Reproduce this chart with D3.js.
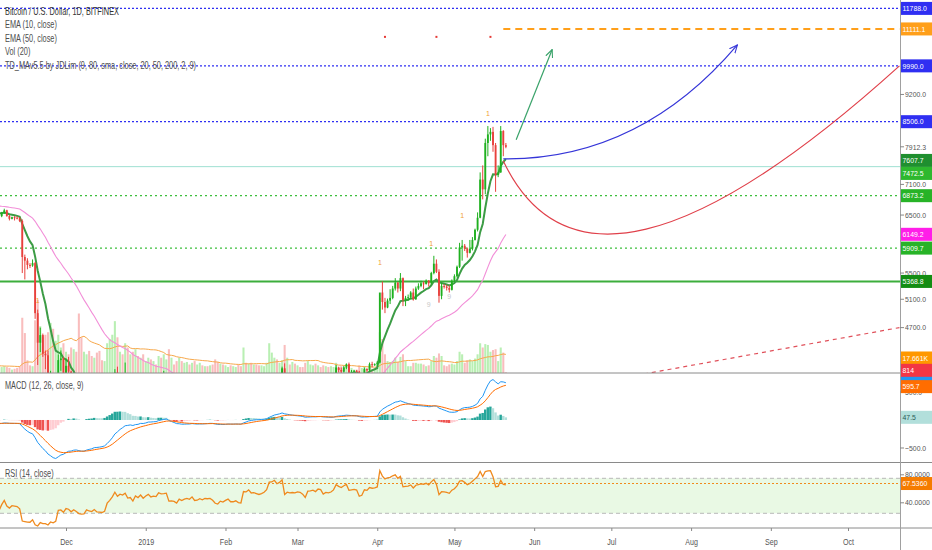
<!DOCTYPE html>
<html>
<head>
<meta charset="utf-8">
<script src="https://cdn.jsdelivr.net/npm/d3@7"></script>
<style>
  body { margin: 0; background: #fff; }
  svg { display: block; }
  text { font-family: 'Liberation Sans', Arial, sans-serif; }
</style>
</head>
<body>
<svg id="chart" width="932" height="550"></svg>
<script>
// ── daily candles, BTC/USD Bitfinex: [day, open, high, low, close, volume (K)] ──
// (October rows are only warm-up for the indicators, they sit left of the view)
const oct18 = [
  [16,6800,6850,6740,6780,14],[17,6780,6800,6730,6760,10],[18,6760,6790,6660,6700,11],
  [19,6700,6730,6650,6680,9],[20,6680,6710,6660,6690,6],[21,6690,6760,6680,6700,6],
  [22,6700,6720,6660,6680,8],[23,6680,6700,6640,6660,9],[24,6660,6720,6650,6670,9],
  [25,6670,6680,6610,6620,10],[26,6620,6660,6600,6620,9],[27,6620,6650,6610,6630,5],
  [28,6630,6640,6600,6620,5],[29,6620,6630,6430,6460,14],[30,6460,6500,6440,6480,9],
  [31,6480,6510,6440,6470,10]
];
const nov18 = [
  [1,6470,6520,6450,6500,9],[2,6500,6560,6490,6530,9],[3,6530,6540,6480,6500,6],
  [4,6500,6600,6460,6560,10],[5,6560,6580,6420,6480,6],[6,6480,6560,6460,6540,7],
  [7,6540,6620,6520,6590,8],[8,6590,6600,6470,6480,7],[9,6480,6500,6400,6430,6],
  [10,6430,6470,6420,6460,4],[11,6460,6480,6400,6450,5],[12,6450,6480,6420,6440,6],
  [13,6440,6460,6370,6390,8],[14,6390,6420,5500,5760,65],[15,5760,5800,5400,5700,47],
  [16,5700,5740,5560,5630,15],[17,5630,5660,5580,5620,9],[18,5620,5720,5600,5660,8],
  [19,5660,5680,4820,4900,62],[20,4900,4950,4220,4500,86],[21,4500,4700,4380,4600,55],
  [22,4600,4620,4320,4360,42],[23,4360,4400,4170,4340,45],[24,4340,4400,3800,3920,48],
  [25,3920,4150,3600,4020,59],[26,4020,4120,3700,3800,52],[27,3800,3900,3670,3850,38],
  [28,3850,4350,3840,4280,45],[29,4280,4400,4150,4300,30],[30,4300,4320,3950,4040,35]
];
const dec18 = [
  [1,4040,4300,4030,4210,25],[2,4210,4320,4100,4140,22],[3,4140,4150,3830,3860,30],
  [4,3860,4030,3800,3950,28],[5,3950,3960,3730,3760,25],[6,3760,3800,3450,3500,70],
  [7,3500,3600,3280,3420,42],[8,3420,3480,3320,3430,25],[9,3430,3640,3420,3600,22],
  [10,3600,3640,3450,3480,26],[11,3480,3500,3390,3420,20],[12,3420,3540,3400,3500,18],
  [13,3500,3510,3240,3270,24],[14,3270,3290,3190,3240,26],[15,3240,3260,3160,3210,15],
  [16,3210,3290,3200,3250,14],[17,3250,3600,3240,3560,35],[18,3560,3720,3480,3690,40],
  [19,3690,4020,3660,3860,45],[20,3860,4170,3820,4130,61],[21,4130,4200,3830,3900,42],
  [22,3900,4040,3850,4030,25],[23,4030,4060,3940,3980,22],[24,3980,4250,3960,4090,35],
  [25,4090,4100,3720,3810,30],[26,3810,3900,3750,3840,22],[27,3840,3860,3580,3620,25],
  [28,3620,3950,3600,3900,28],[29,3900,3960,3780,3800,20],[30,3800,3970,3780,3950,18],
  [31,3950,3980,3720,3750,22]
];
const jan19 = [
  [1,3750,3900,3700,3880,14],[2,3880,4000,3840,3980,18],[3,3980,3990,3800,3830,16],
  [4,3830,3900,3790,3870,14],[5,3870,3920,3840,3850,10],[6,3850,4100,3820,4060,20],
  [7,4060,4100,3990,4010,18],[8,4010,4150,3970,4020,22],[9,4020,4080,3990,4040,16],
  [10,4040,4060,3580,3630,28],[11,3630,3690,3590,3640,18],[12,3640,3660,3570,3610,10],
  [13,3610,3640,3480,3520,14],[14,3520,3720,3510,3680,18],[15,3680,3700,3570,3600,14],
  [16,3600,3720,3600,3660,12],[17,3660,3710,3590,3690,13],[18,3690,3700,3620,3650,10],
  [19,3650,3800,3640,3740,12],[20,3740,3770,3550,3580,14],[21,3580,3620,3550,3590,10],
  [22,3590,3680,3530,3640,12],[23,3640,3660,3580,3600,9],[24,3600,3660,3580,3640,8],
  [25,3640,3650,3590,3630,8],[26,3630,3700,3610,3640,9],[27,3640,3650,3550,3580,10],
  [28,3580,3590,3430,3470,16],[29,3470,3490,3400,3440,13],[30,3440,3530,3420,3510,11],
  [31,3510,3530,3460,3480,10]
];
const feb19 = [
  [1,3480,3540,3460,3520,9],[2,3520,3560,3500,3550,7],[3,3550,3560,3460,3470,9],
  [4,3470,3490,3450,3470,8],[5,3470,3500,3460,3490,7],[6,3490,3510,3410,3440,10],
  [7,3440,3460,3410,3430,8],[8,3430,3770,3420,3700,30],[9,3700,3710,3660,3690,12],
  [10,3690,3760,3660,3750,11],[11,3750,3760,3660,3680,12],[12,3680,3710,3640,3690,10],
  [13,3690,3730,3650,3670,10],[14,3670,3690,3620,3650,9],[15,3650,3700,3640,3670,9],
  [16,3670,3730,3660,3700,8],[17,3700,3780,3670,3760,12],[18,3760,4050,3750,4000,35],
  [19,4000,4120,3950,4010,24],[20,4010,4100,3980,4080,18],[21,4080,4120,3980,4020,16],
  [22,4020,4090,4000,4070,12],[23,4070,4200,4050,4180,15],[24,4180,4240,3800,3840,33],
  [25,3840,3960,3820,3920,18],[26,3920,3940,3880,3900,10],[27,3900,3940,3740,3910,13],
  [28,3910,3960,3850,3900,11]
];
const mar19 = [
  [1,3900,3960,3890,3930,9],[2,3930,3950,3900,3920,7],[3,3920,3930,3860,3880,7],
  [4,3880,3890,3780,3800,12],[5,3800,3990,3790,3970,14],[6,3970,4000,3940,3980,10],
  [7,3980,4020,3960,4000,9],[8,4000,4040,3930,3970,11],[9,3970,4070,3960,4040,9],
  [10,4040,4050,3990,4030,7],[11,4030,4040,3920,3940,9],[12,3940,3990,3910,3980,8],
  [13,3980,3990,3940,3970,7],[14,3970,4020,3930,3990,8],[15,3990,4050,3980,4040,7],
  [16,4040,4220,4030,4190,12],[17,4190,4200,4130,4160,6],[18,4160,4190,4110,4140,8],
  [19,4140,4210,4130,4190,7],[20,4190,4240,4170,4230,7],[21,4230,4250,4090,4130,10],
  [22,4130,4160,4110,4140,6],[23,4140,4160,4130,4150,4],[24,4150,4160,4120,4140,4],
  [25,4140,4150,3990,4030,9],[26,4030,4060,4010,4050,6],[27,4050,4190,4040,4170,8],
  [28,4170,4180,4140,4160,5],[29,4160,4250,4140,4230,7],[30,4230,4260,4190,4220,5],
  [31,4220,4240,4210,4230,4]
];
const apr19 = [
  [1,4230,4270,4200,4250,6],[2,4250,5120,4240,5200,48],[3,5200,5368.8,4950,5060,40],
  [4,5060,5120,4900,4980,22],[5,4980,5110,4970,5080,14],[6,5080,5250,5030,5120,13],
  [7,5120,5300,5100,5260,14],[8,5260,5420,5230,5350,18],[9,5350,5360,5200,5260,13],
  [10,5260,5500,5220,5420,19],[11,5420,5430,5000,5090,22],[12,5090,5150,5000,5120,14],
  [13,5120,5170,5080,5130,8],[14,5130,5220,5100,5200,8],[15,5200,5260,5080,5100,12],
  [16,5100,5290,5090,5260,12],[17,5260,5340,5240,5300,11],[18,5300,5380,5280,5340,11],
  [19,5340,5370,5250,5330,10],[20,5330,5400,5320,5380,8],[21,5380,5390,5290,5340,9],
  [22,5340,5520,5320,5500,14],[23,5500,5780,5480,5650,20],[24,5650,5720,5500,5520,18],
  [25,5520,5560,5050,5150,23],[26,5150,5350,5100,5300,20],[27,5300,5330,5260,5290,9],
  [28,5290,5320,5230,5270,8],[29,5270,5310,5200,5240,10],[30,5240,5400,5230,5380,11]
];
const may19 = [
  [1,5380,5480,5360,5450,10],[2,5450,5620,5430,5600,14],[3,5600,6000,5580,5920,25],
  [4,5920,6050,5700,5950,22],[5,5950,5980,5860,5900,12],[6,5900,5920,5750,5830,15],
  [7,5830,6050,5820,5900,16],[8,5900,6100,5870,6050,14],[9,6050,6250,6040,6230,17],
  [10,6230,6550,6200,6450,22],[11,6450,7350,6440,7200,35],[12,7200,7500,6800,7000,30],
  [13,7000,8100,6900,8000,34],[14,8000,8400,7700,8200,33],[15,8200,8350,8050,8260,25],
  [16,8260,8380,7800,7950,27],[17,7950,8000,6950,7300,28],[18,7300,7500,7250,7350,14],
  [19,7350,8400,7340,8280,30],[20,8280,8300,7700,7950,24],[21,7950,8000,7880,7912.3,0.814]
];

// ── price levels drawn on the chart ──
const levelValues = [11788.0, 9990.0, 8506.0, 7472.5, 6873.2, 5909.7, 5368.8];

// ── user drawings: [year, month(0-based), day, price] ──
const greenArrow   = [[2019,4,25,8075], [2019,5,8,10470]];
const blueCurve    = [[2019,4,20,7640], [2019,6,12,7617], [2019,7,19,10612]];
const redCurve     = [[2019,4,20,7594], [2019,5,23,4472], [2019,9,21,9990]];
const redDashed    = [[2019,5,10,3930], [2019,9,21,4700]];
const orangeDashed = [[2019,4,20,11111.1], [2019,9,21,11111.1]];

// ── TD sequential marks: [year, month, day, price, text] ──
const tdCounts = [
  [2018,10,20,5040,'1'], [2019,3,2,5630,'1'], [2019,3,22,5950,'1'],
  [2019,4,4,6446,'1'], [2019,4,14,8650,'1']
];
const tdGrey = [[2019,3,21,4990,'9'], [2019,3,29,5110,'9']];
const tdTop = [[2019,3,4,10860], [2019,3,24,10860], [2019,4,15,10860]];

// ── axis ticks and last-value tags ──
const priceTicks = [9200, 7912.3, 7100, 6500, 5500, 5100, 4700];
const priceTags  = [11788.0, 11111.1, 9990.0, 8506.0, 7607.7, 7472.5, 6873.2, 6149.2, 5909.7, 5368.8];
const volTags    = [17.661, 0.814];
const volTagText = ['17.661K', '814'];
const macdTicks  = [500, -500];
const macdTags   = [740, 595.7, 47.5];
const rsiTicks   = [80, 40];
const rsiTags    = [67.536];
const rsiBands   = [75, 25];

const legendLines = [
  'Bitcoin / U.S. Dollar, 1D, BITFINEX', 'EMA (10, close)', 'EMA (50, close)', 'Vol (20)',
  'TD_MAv5.5 by JDLim (9, 80, sma, close, 20, 50, 200, 2, 9)'
];

// ──────────────────────────────────────────────────────────────
const svg = d3.select('#chart');
const plotR = 900, mainB = 373, macdB = 462.5, rsiB = 528;

const bars = [[2018,9,oct18],[2018,10,nov18],[2018,11,dec18],[2019,0,jan19],
              [2019,1,feb19],[2019,2,mar19],[2019,3,apr19],[2019,4,may19]]
  .flatMap(([yy, mm, rows]) => rows.map(r => ({
    date: new Date(Date.UTC(yy, mm, r[0])), o: r[1], h: r[2], l: r[3], c: r[4], v: r[5]
  })));
const dt = (a) => new Date(Date.UTC(a[0], a[1], a[2]));

const x    = d3.scaleUtc().domain([new Date(Date.UTC(2018,11,1)), new Date(Date.UTC(2019,9,1))]).range([66, 848]);
const y    = d3.scaleLog().domain([4124, 12077]).range([mainB, 0]);
const yVol = d3.scaleLinear().domain([0, 100]).range([mainB, 288]);
const yM   = d3.scaleLinear().domain([-759, 839]).range([macdB, mainB]);
const yR   = d3.scaleLinear().domain([0, 100]).range([530.8, 460.8]);
const step = x(new Date(Date.UTC(2019,0,2))) - x(new Date(Date.UTC(2019,0,1)));

// squeeze text horizontally, the TradingView font is a narrow one
function squeeze(sel, k) {
  sel.each(function() {
    const w = this.getComputedTextLength();
    d3.select(this).attr('textLength', w * k).attr('lengthAdjust', 'spacingAndGlyphs');
  });
}

// indicators
const closes = bars.map(d => d.c);
const ema = (vals, n) => { const k = 2/(n+1); let e; return vals.map((v,i) => e = i ? v*k + e*(1-k) : v); };
const sma = (vals, n) => vals.map((v,i) => i < n-1 ? null : d3.mean(vals.slice(i-n+1, i+1)));
function rsi(vals, n) {
  let ag = 0, al = 0;
  return vals.map((v,i) => {
    if (i === 0) return null;
    const ch = v - vals[i-1], g = Math.max(ch,0), l = Math.max(-ch,0);
    if (i <= n) { ag += g/n; al += l/n; if (i < n) return null; }
    else { ag = (ag*(n-1) + g)/n; al = (al*(n-1) + l)/n; }
    return 100 - 100/(1 + ag/al);
  });
}
const ema10 = ema(closes, 10), ema50 = ema(closes, 50);
const volMA = sma(bars.map(d => d.v), 20);
const e12 = ema(closes, 12), e26 = ema(closes, 26);
const macd = e12.map((v,i) => v - e26[i]);
const signal = ema(macd, 9);
const hist = macd.map((v,i) => v - signal[i]);
const rsiV = rsi(closes, 14);

// clips
const defs = svg.append('defs');
[['clipMain',0,0,plotR,mainB],['clipMacd',0,mainB,plotR,macdB-mainB],['clipRsi',0,macdB,plotR,rsiB-macdB]]
  .forEach(([id,cx,cy,cw,ch]) => defs.append('clipPath').attr('id',id)
    .append('rect').attr('x',cx).attr('y',cy).attr('width',cw).attr('height',ch));
const mk = defs.append('marker').attr('id','arrow').attr('viewBox','0 0 10 10')
  .attr('refX',9).attr('refY',5).attr('markerWidth',9).attr('markerHeight',9)
  .attr('orient','auto').attr('markerUnits','userSpaceOnUse');
mk.append('path').attr('d','M0,1 L9,5 L0,9').attr('fill','none').attr('stroke','context-stroke').attr('stroke-width',1.2);

// ── MAIN PANE ──
const gMain = svg.append('g').attr('clip-path','url(#clipMain)');

// volume
gMain.append('g').selectAll('rect').data(bars).enter().append('rect')
  .attr('x', d => x(d.date) - step*0.4)
  .attr('width', step*0.8)
  .attr('y', d => yVol(d.v))
  .attr('height', d => mainB - yVol(d.v))
  .attr('fill', d => d.c >= d.o ? '#b9efb3' : '#f9bdbd');

gMain.append('path')
  .datum(bars.map((d,i) => [d.date, volMA[i]]).filter(d => d[1] != null))
  .attr('d', d3.line().x(d => x(d[0])).y(d => yVol(d[1])))
  .attr('fill','none').attr('stroke','#f7a84a').attr('stroke-width',1);

// horizontal levels
const levelStyle = {
  11788.0: ['#2f2ff2', 1.3, '2,2'], 9990.0: ['#2f2ff2', 1.3, '2,2'], 8506.0: ['#2f2ff2', 1.3, '2,2'],
  7472.5: ['#9fe0d2', 1, null], 6873.2: ['#3cbf3c', 1.2, '2,3'], 5909.7: ['#3cbf3c', 1.2, '2,3'],
  5368.8: ['#3cae3c', 2, null]
};
levelValues.forEach(v => {
  const [col, w, dash] = levelStyle[v];
  gMain.append('line').attr('x1',0).attr('x2',plotR).attr('y1',y(v)).attr('y2',y(v))
    .attr('stroke',col).attr('stroke-width',w).attr('stroke-dasharray',dash);
});

// EMA 50 and EMA 10
gMain.append('path')
  .datum(bars.map((d,i) => [d.date, ema50[i]]))
  .attr('d', d3.line().x(d => x(d[0])).y(d => y(d[1])))
  .attr('fill','none').attr('stroke','#f28fd8').attr('stroke-width',1.1);
gMain.append('path')
  .datum(bars.map((d,i) => [d.date, ema10[i]]))
  .attr('d', d3.line().x(d => x(d[0])).y(d => y(d[1])))
  .attr('fill','none').attr('stroke','#3c9c45').attr('stroke-width',2);

// candles
const cg = gMain.append('g').selectAll('g').data(bars).enter().append('g');
cg.append('line')
  .attr('x1', d => x(d.date)).attr('x2', d => x(d.date))
  .attr('y1', d => y(d.h)).attr('y2', d => y(d.l))
  .attr('stroke', d => d.c >= d.o ? '#1fb01f' : '#e8403c').attr('stroke-width',1);
cg.append('rect')
  .attr('x', d => x(d.date) - step*0.36)
  .attr('width', step*0.72)
  .attr('y', d => y(Math.max(d.o, d.c)))
  .attr('height', d => Math.max(1, Math.abs(y(d.o) - y(d.c))))
  .attr('fill', d => d.c >= d.o ? '#1fb01f' : '#e8403c');

// TD marks
gMain.append('g').selectAll('text').data(tdCounts).enter().append('text')
  .attr('x', d => x(dt(d))).attr('y', d => y(d[3]))
  .attr('text-anchor','middle').attr('font-size',7).attr('fill','#f0a030')
  .text(d => d[4]);
gMain.append('g').selectAll('text').data(tdGrey).enter().append('text')
  .attr('x', d => x(dt(d))).attr('y', d => y(d[3]))
  .attr('text-anchor','middle').attr('font-size',7).attr('fill','#c8c8c8')
  .text(d => d[4]);
gMain.append('g').selectAll('rect').data(tdTop).enter().append('rect')
  .attr('x', d => x(dt(d)) - 1).attr('y', d => y(d[3]) - 1)
  .attr('width',2).attr('height',2).attr('fill','#e53935');

// drawings
const pt = a => [x(dt(a)), y(a[3])];
function quad(pts) {
  const p = d3.path(), [a,b,c] = pts.map(pt);
  p.moveTo(a[0],a[1]); p.quadraticCurveTo(b[0],b[1],c[0],c[1]);
  return p.toString();
}
gMain.append('path').attr('d', d3.line()(redDashed.map(pt)))
  .attr('stroke','#e0505a').attr('stroke-width',1.2).attr('stroke-dasharray','4,4').attr('fill','none');
gMain.append('path').attr('d', d3.line()(orangeDashed.map(pt)))
  .attr('stroke','#ff9f1a').attr('stroke-width',2).attr('stroke-dasharray','7,5').attr('fill','none');
gMain.append('path').attr('d', quad(redCurve))
  .attr('stroke','#e0404a').attr('stroke-width',1.2).attr('fill','none');
gMain.append('path').attr('d', quad(blueCurve))
  .attr('stroke','#3535d8').attr('stroke-width',1.2).attr('fill','none').attr('marker-end','url(#arrow)');
gMain.append('path').attr('d', d3.line()(greenArrow.map(pt)))
  .attr('stroke','#3aa36a').attr('stroke-width',1.2).attr('fill','none').attr('marker-end','url(#arrow)');

// legend
svg.append('g').selectAll('text').data(legendLines).enter().append('text')
  .attr('x',5).attr('y',(d,i) => [14.5,28,41.5,54.5,69][i])
  .attr('font-size',10.5).attr('fill',(d,i) => i === 0 ? '#333' : '#4d4d4d')
  .text(d => d)
  .call(squeeze, 0.7);

// ── MACD PANE ──
const gM = svg.append('g').attr('clip-path','url(#clipMacd)');
gM.append('g').selectAll('rect').data(bars).enter().append('rect')
  .attr('x', d => x(d.date) - step*0.5)
  .attr('width', step*0.95)
  .attr('y', (d,i) => Math.min(yM(0), yM(hist[i])))
  .attr('height', (d,i) => Math.abs(yM(hist[i]) - yM(0)))
  .attr('fill', (d,i) => {
    const h = hist[i], p = i ? hist[i-1] : 0;
    return h >= 0 ? (h >= p ? '#26a69a' : '#b2dfdb') : (h < p ? '#ef5350' : '#ffcdd2');
  });
gM.append('path').datum(bars.map((d,i) => [d.date, macd[i]]))
  .attr('d', d3.line().x(d => x(d[0])).y(d => yM(d[1])))
  .attr('fill','none').attr('stroke','#2196f3').attr('stroke-width',1);
gM.append('path').datum(bars.map((d,i) => [d.date, signal[i]]))
  .attr('d', d3.line().x(d => x(d[0])).y(d => yM(d[1])))
  .attr('fill','none').attr('stroke','#ff6d00').attr('stroke-width',1);
svg.append('text').attr('x',5).attr('y',388.5).attr('font-size',10.5).attr('fill','#4d4d4d')
  .text('MACD (12, 26, close, 9)').call(squeeze, 0.7);

// ── RSI PANE ──
const gR = svg.append('g').attr('clip-path','url(#clipRsi)');
gR.append('rect').attr('x',0).attr('width',plotR)
  .attr('y', yR(rsiBands[0])).attr('height', yR(rsiBands[1]) - yR(rsiBands[0]))
  .attr('fill','#e9f9e4');
rsiBands.forEach(b => gR.append('line').attr('x1',0).attr('x2',plotR)
  .attr('y1',yR(b)).attr('y2',yR(b)).attr('stroke','#b8b8b8').attr('stroke-dasharray','4,3'));
gR.append('line').attr('x1',0).attr('x2',plotR).attr('y1',yR(rsiTags[0])).attr('y2',yR(rsiTags[0]))
  .attr('stroke','#f08a1c').attr('stroke-width',1.2).attr('stroke-dasharray','2,2');
gR.append('path').datum(bars.map((d,i) => [d.date, rsiV[i]]).filter(d => d[1] != null))
  .attr('d', d3.line().x(d => x(d[0])).y(d => yR(d[1])))
  .attr('fill','none').attr('stroke','#ef8a1e').attr('stroke-width',1.3);
svg.append('text').attr('x',5).attr('y',476.5).attr('font-size',10.5).attr('fill','#4d4d4d')
  .text('RSI (14, close)').call(squeeze, 0.7);

// ── frames ──
[mainB, macdB, rsiB].forEach(v => svg.append('line').attr('x1',0).attr('x2',932)
  .attr('y1',v).attr('y2',v).attr('stroke','#8a8a8a').attr('stroke-width',1));
svg.append('line').attr('x1',plotR+0.5).attr('x2',plotR+0.5).attr('y1',0).attr('y2',550)
  .attr('stroke','#a0a0a0');

// ── x axis ──
const xAxis = svg.append('g').attr('transform',`translate(0,${rsiB})`)
  .call(d3.axisBottom(x)
    .tickValues(d3.utcMonth.range(new Date(Date.UTC(2018,11,1)), new Date(Date.UTC(2019,9,2))))
    .tickSize(3)
    .tickFormat(d => d.getUTCMonth() === 0 ? String(d.getUTCFullYear()) : d3.utcFormat('%b')(d)));
xAxis.select('.domain').remove();
xAxis.selectAll('line').attr('stroke','#888');
xAxis.selectAll('text').attr('fill','#555').attr('font-size',9.5).attr('dy','1.15em')
  .style('font-family',"'Liberation Sans', Arial, sans-serif")
  .call(squeeze, 0.75);

// ── right scale ──
const ax = svg.append('g');
function tick(yy, txt, fs, k) {
  ax.append('line').attr('x1',plotR).attr('x2',plotR+4).attr('y1',yy).attr('y2',yy).attr('stroke','#888');
  ax.append('text').attr('x',plotR+5).attr('y',yy).attr('dy','0.35em')
    .attr('font-size',fs || 7.8).attr('fill','#555').text(txt).call(squeeze, k || 0.88);
}
function tag(yy, txt, bg, fg) {
  ax.append('rect').attr('x',plotR+1).attr('y',yy-6.5).attr('width',34).attr('height',13).attr('fill',bg);
  if (txt) ax.append('text').attr('x',plotR+2.5).attr('y',yy).attr('dy','0.35em')
    .attr('font-size',7.8).attr('fill',fg || '#fff').text(txt).call(squeeze, 0.88);
}
priceTicks.forEach(v => tick(y(v), d3.format('.1f')(v)));
macdTicks.forEach(v => tick(yM(v), d3.format('.1f')(v)));
rsiTicks.forEach(v => tick(yR(v), d3.format('.4f')(v), 7.3, 0.94));

// price tags, pushed apart where they would collide
const priceTagColors = ['#2f2ff2','#ff9f1a','#2f2ff2','#2f2ff2','#1f8f2f','#2eb82e','#27b327','#ff1ee8','#27b327','#138d13'];
let lastY = -Infinity;
priceTags.map((v,i) => ({v, i, yy: y(v)})).sort((a,b) => a.yy - b.yy).forEach(t => {
  t.yy = Math.max(t.yy, lastY + 13); lastY = t.yy;
  tag(t.yy, d3.format('.1f')(t.v), priceTagColors[t.i]);
});
tag(yM(macdTags[0]), null, '#2196f3');
tag(yVol(volTags[0]), volTagText[0], '#ff9800');
tag(yVol(volTags[1]) - 2, volTagText[1], '#f23645');
tag(yM(macdTags[1]), d3.format('.1f')(macdTags[1]), '#ff6d00');
tag(yM(macdTags[2]), d3.format('.1f')(macdTags[2]), '#b2dfdb', '#2a5a55');
tag(yR(rsiTags[0]), d3.format('.4f')(rsiTags[0]), '#f57c00');
</script>
</body>
</html>
